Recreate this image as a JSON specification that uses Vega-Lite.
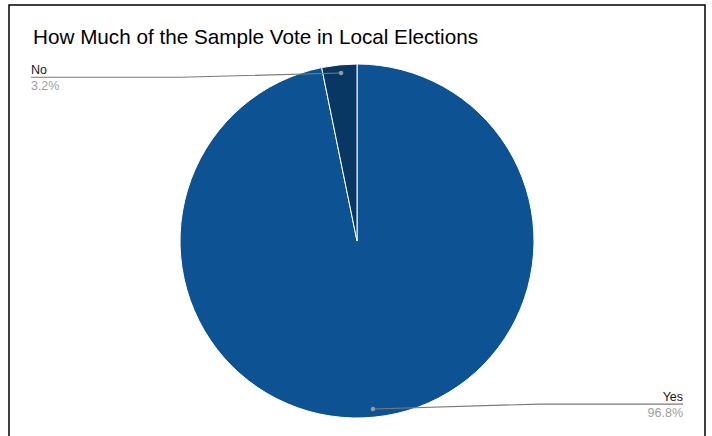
{
  "$schema": "https://vega.github.io/schema/vega-lite/v6.json",
  "autosize": {"type": "none"},
  "width": 696,
  "height": 472,
  "padding": {"left": 9, "top": 5, "right": 7, "bottom": 0},
  "background": "white",
  "config": {
    "view": {"stroke": "#000000", "strokeWidth": 1.5},
    "font": "Liberation Sans"
  },
  "title": {
    "text": "How Much of the Sample Vote in Local Elections",
    "anchor": "start",
    "frame": "group",
    "orient": "top",
    "offset": -44,
    "dx": 24,
    "fontSize": 20.7,
    "fontWeight": "normal",
    "color": "#000000",
    "font": "Liberation Sans"
  },
  "datasets": {
    "slices": [
      {"answer": "Yes", "share": 96.8, "ord": 1},
      {"answer": "No", "share": 3.2, "ord": 2}
    ],
    "leaders": [
      {"answer": "No", "i": 1, "x": -0.09, "y": 0.949},
      {"answer": "No", "i": 2, "x": -1.0, "y": 0.925},
      {"answer": "No", "i": 3, "x": -1.842, "y": 0.925},
      {"answer": "Yes", "i": 1, "x": 0.09, "y": -0.949},
      {"answer": "Yes", "i": 2, "x": 1.03, "y": -0.921},
      {"answer": "Yes", "i": 3, "x": 1.842, "y": -0.921}
    ],
    "dots": [
      {"answer": "No", "x": -0.09, "y": 0.949},
      {"answer": "Yes", "x": 0.09, "y": -0.949}
    ],
    "labels": [
      {"answer": "No", "kind": "name", "text": "No", "x": -1.842, "y": 0.944, "side": "left"},
      {"answer": "No", "kind": "pct", "text": "3.2%", "x": -1.842, "y": 0.855, "side": "left"},
      {"answer": "Yes", "kind": "name", "text": "Yes", "x": 1.842, "y": -0.904, "side": "right"},
      {"answer": "Yes", "kind": "pct", "text": "96.8%", "x": 1.842, "y": -0.994, "side": "right"}
    ]
  },
  "layer": [
    {
      "data": {"name": "slices"},
      "mark": {"type": "arc", "radius": 177, "stroke": "#ffffff", "strokeWidth": 1},
      "encoding": {
        "theta": {"field": "share", "type": "quantitative", "stack": true},
        "order": {"field": "ord", "type": "quantitative"},
        "color": {
          "field": "answer",
          "type": "nominal",
          "scale": {"domain": ["Yes", "No"], "range": ["#0d5394", "#093763"]},
          "legend": null
        }
      }
    },
    {
      "data": {"name": "leaders"},
      "mark": {"type": "line", "color": "#7a7a7a", "strokeWidth": 1.2},
      "encoding": {
        "x": {"field": "x", "type": "quantitative", "scale": {"domain": [-1.966, 1.966], "nice": false, "zero": false}, "axis": null},
        "y": {"field": "y", "type": "quantitative", "scale": {"domain": [-1.333, 1.333], "nice": false, "zero": false}, "axis": null},
        "detail": {"field": "answer"},
        "order": {"field": "i", "type": "quantitative"}
      }
    },
    {
      "data": {"name": "dots"},
      "mark": {"type": "point", "filled": true, "size": 20, "color": "#9a9a9a", "opacity": 1},
      "encoding": {
        "x": {"field": "x", "type": "quantitative"},
        "y": {"field": "y", "type": "quantitative"}
      }
    },
    {
      "data": {"name": "labels"},
      "transform": [{"filter": "datum.side === 'left'"}],
      "mark": {"type": "text", "fontSize": 12.5, "baseline": "alphabetic", "align": "left", "font": "Liberation Sans"},
      "encoding": {
        "x": {"field": "x", "type": "quantitative"},
        "y": {"field": "y", "type": "quantitative"},
        "text": {"field": "text"},
        "color": {
          "field": "kind",
          "type": "nominal",
          "scale": {"domain": ["name", "pct"], "range": ["#1a1a1a", "#9e9e9e"]},
          "legend": null
        }
      }
    },
    {
      "data": {"name": "labels"},
      "transform": [{"filter": "datum.side === 'right'"}],
      "mark": {"type": "text", "fontSize": 12.5, "baseline": "alphabetic", "align": "right", "font": "Liberation Sans"},
      "encoding": {
        "x": {"field": "x", "type": "quantitative"},
        "y": {"field": "y", "type": "quantitative"},
        "text": {"field": "text"},
        "color": {
          "field": "kind",
          "type": "nominal",
          "scale": {"domain": ["name", "pct"], "range": ["#1a1a1a", "#9e9e9e"]},
          "legend": null
        }
      }
    }
  ],
  "resolve": {"scale": {"color": "independent"}}
}
